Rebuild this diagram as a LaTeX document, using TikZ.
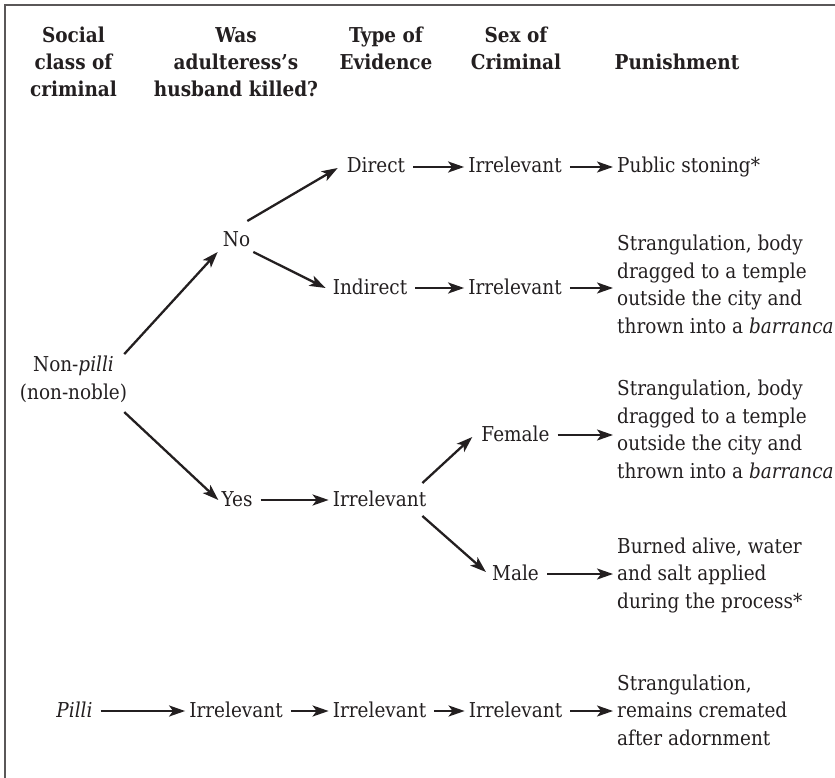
\documentclass[tikz,border=0pt]{standalone}
\usepackage{fontspec}
\setmainfont{DejaVu Serif}[FakeStretch=0.9]
\usetikzlibrary{arrows.meta}
\definecolor{ink}{RGB}{35,31,32}
\begin{document}
\begin{tikzpicture}[x=1pt,y=-1pt,
  font=\fontsize{20.5}{27.5}\selectfont, text=ink,
  lbl/.style={inner sep=0pt,text height=12pt,text depth=0pt,anchor=base},
  blk/.style={inner sep=0pt,align=left,anchor=base west},
  hdr/.style={inner sep=0pt,align=center,anchor=base,font=\fontsize{20.5}{27}\selectfont\bfseries},
  arr/.style={draw=ink,line width=2.3pt,-{Stealth[length=16pt,width=11pt,inset=4pt]}},
  hl/.style={arr,shorten <=8pt,shorten >=4pt}]
\useasboundingbox (0,0) rectangle (835,778);
\draw[draw=ink!75,line width=1.3pt] (5,778) -- (5,5) -- (835,5);

% headers (base anchor = last line baseline)
\node[hdr] (hA) at (73.5,97) {Social\\class of\\criminal};
\node[hdr] (hB) at (236,97) {Was\\adulteress’s\\husband killed?};
\node[hdr] (hC) at (386,70) {Type of\\Evidence};
\node[hdr] (hD) at (516,70) {Sex of\\Criminal};
\node[hdr] (hE) at (677,70) {Punishment};

% tree
\node[inner sep=0pt,align=center,anchor=base] (np) at (73.5,399) {Non-\textit{pilli}\\(non-noble)};
\node[lbl] (no) at (236.5,247) {No};
\node[lbl] (direct) at (376,173) {Direct};
\node[lbl] (indirect) at (370,294) {Indirect};
\node[lbl] (irrA) at (515,173) {Irrelevant};
\node[lbl] (irrB) at (515,294) {Irrelevant};
\node[lbl] (yes) at (237,506) {Yes};
\node[lbl] (irrC) at (379.5,506) {Irrelevant};
\node[lbl] (female) at (515.5,441) {Female};
\node[lbl] (male) at (515.5,580) {Male};
\node[lbl] (pilli) at (74.5,717) {\textit{Pilli}};
\node[lbl] (irrD) at (236,717) {Irrelevant};
\node[lbl] (irrE) at (379.5,717) {Irrelevant};
\node[lbl] (irrF) at (515.5,717) {Irrelevant};

% punishments (base anchor = last line baseline)
\node[blk] (pun1) at (617,173) {Public stoning*};
\node[blk] (pun2) at (617,333) {Strangulation, body\\dragged to a temple\\outside the city and\\thrown into a \textit{barranca}};
\node[blk] (pun3) at (617,478) {Strangulation, body\\dragged to a temple\\outside the city and\\thrown into a \textit{barranca}};
\node[blk] (pun4) at (617,608) {Burned alive, water\\and salt applied\\during the process*};
\node[blk] (pun5) at (617,745) {Strangulation,\\remains cremated\\after adornment};

% diagonal connectors
\draw[arr] ([shift={(-3,-25)}]np.east) -- ([shift={(-5,11)}]no.west);
\draw[arr] ([shift={(-3,33)}]np.east) -- ([shift={(-3,0)}]yes.west);
\draw[arr] ([shift={(-3,-20)}]no.east) -- ([shift={(-9,1)}]direct.west);
\draw[arr] ([shift={(3,11)}]no.east) -- ([shift={(-7,0)}]indirect.west);
\draw[arr] ([shift={(-4,-17)}]irrC.east) -- ([shift={(-9,2)}]female.west);
\draw[arr] ([shift={(-4,16)}]irrC.east) -- ([shift={(-6,-2)}]male.west);

% horizontal connectors
\draw[hl] (direct.east) -- (irrA.west);
\draw[hl] (irrA.east) -- (irrA.east -| pun1.west);
\draw[hl] (indirect.east) -- (irrB.west);
\draw[hl] (irrB.east) -- (irrB.east -| pun2.west);
\draw[hl] (yes.east) -- (irrC.west);
\draw[hl] (female.east) -- (female.east -| pun3.west);
\draw[hl] (male.east) -- (male.east -| pun4.west);
\draw[hl] (pilli.east) -- (irrD.west);
\draw[hl] (irrD.east) -- (irrE.west);
\draw[hl] (irrE.east) -- (irrF.west);
\draw[hl] (irrF.east) -- (irrF.east -| pun5.west);
\end{tikzpicture}
\end{document}
